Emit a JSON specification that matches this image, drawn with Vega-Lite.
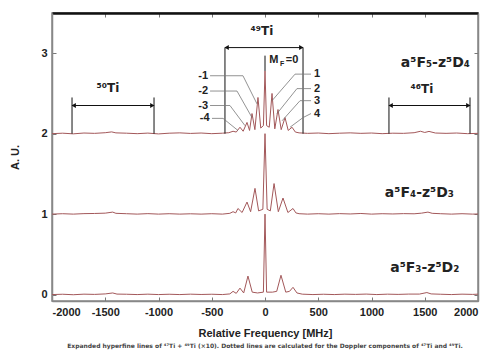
{
  "$schema": "https://vega.github.io/schema/vega-lite/v6.json",
  "width": 426,
  "height": 288,
  "autosize": "none",
  "padding": {"left": 52, "top": 13, "right": 12, "bottom": 52},
  "background": "white",
  "config": {
    "view": {"stroke": "#888", "strokeWidth": 1.5},
    "font": "Liberation Sans",
    "axis": {"grid": false, "labelFont": "Liberation Sans", "titleFont": "Liberation Sans", "labelColor": "#222", "titleColor": "#222", "labelFontWeight": "bold", "titleFontWeight": "bold", "tickColor": "#777", "domainColor": "#888", "domainWidth": 1.5}
  },
  "title": {"text": "Expanded hyperfine lines of ⁴⁷Ti + ⁴⁹Ti (×10). Dotted lines are calculated for the Doppler components of ⁴⁷Ti and ⁴⁹Ti.", "orient": "bottom", "font": "DejaVu Sans", "fontSize": 6, "fontWeight": "bold", "color": "#444", "offset": 5, "anchor": "middle"},
  "datasets": {
    "spec": [
      {"f": -2000, "a": 2.0, "s": "A"}, {"f": -1900, "a": 2.006, "s": "A"}, {"f": -1800, "a": 1.998, "s": "A"}, {"f": -1700, "a": 2.008, "s": "A"}, {"f": -1600, "a": 2.004, "s": "A"}, {"f": -1500, "a": 2.012, "s": "A"}, {"f": -1440, "a": 2.022, "s": "A"}, {"f": -1400, "a": 2.01, "s": "A"}, {"f": -1300, "a": 2.006, "s": "A"}, {"f": -1200, "a": 2.0, "s": "A"}, {"f": -1100, "a": 2.007, "s": "A"}, {"f": -1000, "a": 1.997, "s": "A"}, {"f": -900, "a": 2.006, "s": "A"}, {"f": -800, "a": 2.01, "s": "A"}, {"f": -700, "a": 2.003, "s": "A"}, {"f": -600, "a": 2.008, "s": "A"}, {"f": -500, "a": 2.0, "s": "A"}, {"f": -400, "a": 2.006, "s": "A"}, {"f": -340, "a": 2.012, "s": "A"}, {"f": -300, "a": 2.03, "s": "A"}, {"f": -270, "a": 2.02, "s": "A"}, {"f": -235, "a": 2.08, "s": "A"}, {"f": -205, "a": 2.03, "s": "A"}, {"f": -169, "a": 2.14, "s": "A"}, {"f": -145, "a": 2.04, "s": "A"}, {"f": -122, "a": 2.25, "s": "A"}, {"f": -95, "a": 2.05, "s": "A"}, {"f": -66, "a": 2.45, "s": "A"}, {"f": -40, "a": 2.07, "s": "A"}, {"f": -15, "a": 2.1, "s": "A"}, {"f": 0, "a": 2.78, "s": "A"}, {"f": 15, "a": 2.1, "s": "A"}, {"f": 40, "a": 2.08, "s": "A"}, {"f": 66, "a": 2.5, "s": "A"}, {"f": 92, "a": 2.06, "s": "A"}, {"f": 122, "a": 2.3, "s": "A"}, {"f": 152, "a": 2.05, "s": "A"}, {"f": 188, "a": 2.2, "s": "A"}, {"f": 218, "a": 2.04, "s": "A"}, {"f": 254, "a": 2.08, "s": "A"}, {"f": 285, "a": 2.02, "s": "A"}, {"f": 320, "a": 2.01, "s": "A"}, {"f": 400, "a": 2.004, "s": "A"}, {"f": 500, "a": 2.008, "s": "A"}, {"f": 600, "a": 2.0, "s": "A"}, {"f": 700, "a": 2.006, "s": "A"}, {"f": 800, "a": 2.01, "s": "A"}, {"f": 900, "a": 2.004, "s": "A"}, {"f": 1000, "a": 2.008, "s": "A"}, {"f": 1100, "a": 2.0, "s": "A"}, {"f": 1200, "a": 2.006, "s": "A"}, {"f": 1300, "a": 2.004, "s": "A"}, {"f": 1400, "a": 2.012, "s": "A"}, {"f": 1460, "a": 2.03, "s": "A"}, {"f": 1500, "a": 2.015, "s": "A"}, {"f": 1540, "a": 2.028, "s": "A"}, {"f": 1600, "a": 2.008, "s": "A"}, {"f": 1700, "a": 2.004, "s": "A"}, {"f": 1800, "a": 2.008, "s": "A"}, {"f": 1900, "a": 2.0, "s": "A"}, {"f": 2000, "a": 2.004, "s": "A"},

      {"f": -2000, "a": 1.0, "s": "B"}, {"f": -1900, "a": 1.005, "s": "B"}, {"f": -1800, "a": 1.0, "s": "B"}, {"f": -1700, "a": 1.006, "s": "B"}, {"f": -1600, "a": 1.008, "s": "B"}, {"f": -1500, "a": 1.012, "s": "B"}, {"f": -1430, "a": 1.025, "s": "B"}, {"f": -1400, "a": 1.01, "s": "B"}, {"f": -1300, "a": 1.005, "s": "B"}, {"f": -1200, "a": 1.0, "s": "B"}, {"f": -1100, "a": 1.006, "s": "B"}, {"f": -1000, "a": 1.0, "s": "B"}, {"f": -900, "a": 1.005, "s": "B"}, {"f": -800, "a": 1.0, "s": "B"}, {"f": -700, "a": 1.004, "s": "B"}, {"f": -600, "a": 1.0, "s": "B"}, {"f": -500, "a": 1.005, "s": "B"}, {"f": -400, "a": 1.0, "s": "B"}, {"f": -330, "a": 1.01, "s": "B"}, {"f": -300, "a": 1.03, "s": "B"}, {"f": -275, "a": 1.015, "s": "B"}, {"f": -254, "a": 1.07, "s": "B"}, {"f": -215, "a": 1.02, "s": "B"}, {"f": -169, "a": 1.15, "s": "B"}, {"f": -135, "a": 1.03, "s": "B"}, {"f": -94, "a": 1.32, "s": "B"}, {"f": -60, "a": 1.04, "s": "B"}, {"f": -20, "a": 1.06, "s": "B"}, {"f": 0, "a": 2.0, "s": "B"}, {"f": 20, "a": 1.06, "s": "B"}, {"f": 50, "a": 1.04, "s": "B"}, {"f": 85, "a": 1.38, "s": "B"}, {"f": 125, "a": 1.03, "s": "B"}, {"f": 169, "a": 1.2, "s": "B"}, {"f": 215, "a": 1.02, "s": "B"}, {"f": 263, "a": 1.07, "s": "B"}, {"f": 290, "a": 1.015, "s": "B"}, {"f": 320, "a": 1.005, "s": "B"}, {"f": 400, "a": 1.0, "s": "B"}, {"f": 500, "a": 1.005, "s": "B"}, {"f": 600, "a": 1.0, "s": "B"}, {"f": 700, "a": 1.006, "s": "B"}, {"f": 800, "a": 1.002, "s": "B"}, {"f": 900, "a": 1.008, "s": "B"}, {"f": 1000, "a": 1.0, "s": "B"}, {"f": 1100, "a": 1.005, "s": "B"}, {"f": 1200, "a": 1.002, "s": "B"}, {"f": 1300, "a": 1.006, "s": "B"}, {"f": 1400, "a": 1.004, "s": "B"}, {"f": 1470, "a": 1.012, "s": "B"}, {"f": 1530, "a": 1.025, "s": "B"}, {"f": 1570, "a": 1.01, "s": "B"}, {"f": 1650, "a": 1.005, "s": "B"}, {"f": 1750, "a": 1.0, "s": "B"}, {"f": 1850, "a": 1.005, "s": "B"}, {"f": 1950, "a": 1.0, "s": "B"}, {"f": 2000, "a": 1.002, "s": "B"},

      {"f": -2000, "a": 0.0, "s": "C"}, {"f": -1900, "a": 0.004, "s": "C"}, {"f": -1800, "a": -0.002, "s": "C"}, {"f": -1700, "a": 0.005, "s": "C"}, {"f": -1600, "a": 0.002, "s": "C"}, {"f": -1500, "a": 0.008, "s": "C"}, {"f": -1430, "a": 0.02, "s": "C"}, {"f": -1390, "a": 0.006, "s": "C"}, {"f": -1300, "a": 0.004, "s": "C"}, {"f": -1200, "a": 0.0, "s": "C"}, {"f": -1100, "a": 0.005, "s": "C"}, {"f": -1000, "a": 0.0, "s": "C"}, {"f": -900, "a": 0.004, "s": "C"}, {"f": -800, "a": 0.0, "s": "C"}, {"f": -700, "a": 0.005, "s": "C"}, {"f": -600, "a": 0.001, "s": "C"}, {"f": -500, "a": 0.004, "s": "C"}, {"f": -400, "a": 0.0, "s": "C"}, {"f": -330, "a": 0.008, "s": "C"}, {"f": -300, "a": 0.04, "s": "C"}, {"f": -270, "a": 0.015, "s": "C"}, {"f": -235, "a": 0.08, "s": "C"}, {"f": -200, "a": 0.02, "s": "C"}, {"f": -160, "a": 0.23, "s": "C"}, {"f": -120, "a": 0.03, "s": "C"}, {"f": -70, "a": 0.02, "s": "C"}, {"f": -15, "a": 0.03, "s": "C"}, {"f": 0, "a": 1.0, "s": "C"}, {"f": 15, "a": 0.03, "s": "C"}, {"f": 70, "a": 0.03, "s": "C"}, {"f": 110, "a": 0.04, "s": "C"}, {"f": 150, "a": 0.24, "s": "C"}, {"f": 195, "a": 0.03, "s": "C"}, {"f": 230, "a": 0.04, "s": "C"}, {"f": 263, "a": 0.09, "s": "C"}, {"f": 300, "a": 0.02, "s": "C"}, {"f": 350, "a": 0.005, "s": "C"}, {"f": 450, "a": 0.0, "s": "C"}, {"f": 550, "a": 0.004, "s": "C"}, {"f": 650, "a": 0.0, "s": "C"}, {"f": 750, "a": 0.005, "s": "C"}, {"f": 850, "a": 0.002, "s": "C"}, {"f": 950, "a": 0.006, "s": "C"}, {"f": 1050, "a": 0.0, "s": "C"}, {"f": 1150, "a": 0.005, "s": "C"}, {"f": 1250, "a": 0.002, "s": "C"}, {"f": 1350, "a": 0.006, "s": "C"}, {"f": 1450, "a": 0.006, "s": "C"}, {"f": 1520, "a": 0.025, "s": "C"}, {"f": 1560, "a": 0.008, "s": "C"}, {"f": 1650, "a": 0.004, "s": "C"}, {"f": 1750, "a": 0.0, "s": "C"}, {"f": 1850, "a": 0.005, "s": "C"}, {"f": 1950, "a": 0.002, "s": "C"}, {"f": 2000, "a": 0.005, "s": "C"}
    ],
    "brk": [
      {"x": -376, "y": 3.07, "g": "c"}, {"x": 357, "y": 3.07, "g": "c"},
      {"x": -376, "y": 3.07, "g": "cl"}, {"x": -376, "y": 2.0, "g": "cl"},
      {"x": 357, "y": 3.07, "g": "cr"}, {"x": 357, "y": 2.0, "g": "cr"},
      {"x": -1812, "y": 2.35, "g": "l"}, {"x": -1042, "y": 2.35, "g": "l"},
      {"x": -1812, "y": 2.45, "g": "ll"}, {"x": -1812, "y": 2.0, "g": "ll"},
      {"x": -1042, "y": 2.45, "g": "lr"}, {"x": -1042, "y": 2.0, "g": "lr"},
      {"x": 1164, "y": 2.35, "g": "r"}, {"x": 1925, "y": 2.35, "g": "r"},
      {"x": 1164, "y": 2.45, "g": "rl"}, {"x": 1164, "y": 2.0, "g": "rl"},
      {"x": 1925, "y": 2.45, "g": "rr"}, {"x": 1925, "y": 2.0, "g": "rr"},
      {"x": 0, "y": 2.97, "g": "m"}, {"x": 0, "y": 2.78, "g": "m"}
    ],
    "arrows": [
      {"x": -360, "y": 3.07, "d": "L"}, {"x": 341, "y": 3.07, "d": "R"},
      {"x": -1796, "y": 2.35, "d": "L"}, {"x": -1058, "y": 2.35, "d": "R"},
      {"x": 1180, "y": 2.35, "d": "L"}, {"x": 1909, "y": 2.35, "d": "R"}
    ],
    "lead": [
      {"x": -516, "y": 2.72, "g": "-1"}, {"x": -207, "y": 2.72, "g": "-1"}, {"x": -75, "y": 2.37, "g": "-1"},
      {"x": -516, "y": 2.53, "g": "-2"}, {"x": -263, "y": 2.53, "g": "-2"}, {"x": -122, "y": 2.2, "g": "-2"},
      {"x": -516, "y": 2.35, "g": "-3"}, {"x": -329, "y": 2.35, "g": "-3"}, {"x": -188, "y": 2.1, "g": "-3"},
      {"x": -498, "y": 2.19, "g": "-4"}, {"x": -394, "y": 2.19, "g": "-4"}, {"x": -254, "y": 2.04, "g": "-4"},
      {"x": 432, "y": 2.74, "g": "1"}, {"x": 282, "y": 2.74, "g": "1"}, {"x": 66, "y": 2.41, "g": "1"},
      {"x": 432, "y": 2.56, "g": "2"}, {"x": 300, "y": 2.56, "g": "2"}, {"x": 113, "y": 2.25, "g": "2"},
      {"x": 432, "y": 2.41, "g": "3"}, {"x": 329, "y": 2.41, "g": "3"}, {"x": 160, "y": 2.16, "g": "3"},
      {"x": 432, "y": 2.25, "g": "4"}, {"x": 357, "y": 2.2, "g": "4"}, {"x": 235, "y": 2.08, "g": "4"}
    ],
    "numL": [
      {"x": -535, "y": 2.72, "t": "-1"}, {"x": -535, "y": 2.53, "t": "-2"}, {"x": -535, "y": 2.35, "t": "-3"}, {"x": -520, "y": 2.19, "t": "-4"}
    ],
    "numR": [
      {"x": 460, "y": 2.74, "t": "1"}, {"x": 460, "y": 2.56, "t": "2"}, {"x": 460, "y": 2.41, "t": "3"}, {"x": 460, "y": 2.25, "t": "4"},
      {"x": 40, "y": 2.92, "t": "M"}, {"x": 195, "y": 2.92, "t": "=0"}
    ],
    "sub": [
      {"x": 140, "y": 2.86, "t": "F"}
    ],
    "iso": [
      {"x": -28, "y": 3.28, "t": "⁴⁹Ti"}, {"x": -1474, "y": 2.57, "t": "⁵⁰Ti"}, {"x": 1474, "y": 2.56, "t": "⁴⁶Ti"}
    ],
    "trans": [
      {"x": 1600, "y": 2.88, "t": "a⁵F₅-z⁵D₄"}, {"x": 1450, "y": 1.26, "t": "a⁵F₄-z⁵D₃"}, {"x": 1500, "y": 0.33, "t": "a⁵F₃-z⁵D₂"}
    ]
  },
  "layer": [
    {
      "data": {"name": "spec"},
      "mark": {"type": "line", "color": "#a3585a", "strokeWidth": 1, "clip": true},
      "encoding": {
        "x": {"field": "f", "type": "quantitative", "scale": {"domain": [-2000, 2000], "nice": false}, "axis": {"orient": "bottom", "values": [-2000, -1500, -1000, -500, 0, 500, 1000, 1500, 2000], "labelExpr": "'' + datum.value", "tickSize": -4, "labelPadding": 9, "labelFontSize": 11, "title": "Relative Frequency [MHz]", "titleFontSize": 11, "titlePadding": 10}},
        "y": {"field": "a", "type": "quantitative", "scale": {"domain": [-0.08, 3.5], "nice": false, "zero": false}, "axis": {"orient": "left", "values": [0, 1, 2, 3], "tickSize": -4, "labelPadding": 9, "labelFontSize": 11, "title": "A. U.", "titleFontSize": 11, "titlePadding": 20}},
        "detail": {"field": "s", "type": "nominal"},
        "order": {"field": "f", "type": "quantitative"}
      }
    },
    {
      "data": {"name": "brk"},
      "mark": {"type": "line", "color": "#111", "strokeWidth": 1},
      "encoding": {
        "x": {"field": "x", "type": "quantitative", "axis": {"orient": "top", "values": [-2000, -1500, -1000, -500, 0, 500, 1000, 1500, 2000], "labels": false, "tickSize": -4, "domainColor": "#111", "domainWidth": 2.5, "title": null}},
        "y": {"field": "y", "type": "quantitative", "axis": {"orient": "right", "values": [0, 1, 2, 3], "labels": false, "tickSize": -4, "title": null}},
        "detail": {"field": "g", "type": "nominal"}
      }
    },
    {
      "data": {"name": "lead"},
      "mark": {"type": "line", "color": "#777", "strokeWidth": 0.8},
      "encoding": {
        "x": {"field": "x", "type": "quantitative", "axis": null},
        "y": {"field": "y", "type": "quantitative", "axis": null},
        "detail": {"field": "g", "type": "nominal"}
      }
    },
    {
      "data": {"name": "arrows"},
      "mark": {"type": "point", "filled": true, "color": "#111", "size": 25, "opacity": 1},
      "encoding": {
        "x": {"field": "x", "type": "quantitative", "axis": null},
        "y": {"field": "y", "type": "quantitative", "axis": null},
        "shape": {"field": "d", "type": "nominal", "scale": {"domain": ["L", "R"], "range": ["triangle-left", "triangle-right"]}, "legend": null}
      }
    },
    {
      "data": {"name": "numL"},
      "mark": {"type": "text", "align": "right", "baseline": "middle", "fontSize": 11, "fontWeight": "bold", "color": "#222"},
      "encoding": {
        "x": {"field": "x", "type": "quantitative", "axis": null},
        "y": {"field": "y", "type": "quantitative", "axis": null},
        "text": {"field": "t", "type": "nominal"}
      }
    },
    {
      "data": {"name": "numR"},
      "mark": {"type": "text", "align": "left", "baseline": "middle", "fontSize": 11, "fontWeight": "bold", "color": "#222"},
      "encoding": {
        "x": {"field": "x", "type": "quantitative", "axis": null},
        "y": {"field": "y", "type": "quantitative", "axis": null},
        "text": {"field": "t", "type": "nominal"}
      }
    },
    {
      "data": {"name": "sub"},
      "mark": {"type": "text", "align": "left", "baseline": "middle", "fontSize": 7, "fontWeight": "bold", "color": "#222"},
      "encoding": {
        "x": {"field": "x", "type": "quantitative", "axis": null},
        "y": {"field": "y", "type": "quantitative", "axis": null},
        "text": {"field": "t", "type": "nominal"}
      }
    },
    {
      "data": {"name": "iso"},
      "mark": {"type": "text", "align": "center", "baseline": "middle", "font": "DejaVu Sans", "fontSize": 12, "fontWeight": "bold", "color": "#222"},
      "encoding": {
        "x": {"field": "x", "type": "quantitative", "axis": null},
        "y": {"field": "y", "type": "quantitative", "axis": null},
        "text": {"field": "t", "type": "nominal"}
      }
    },
    {
      "data": {"name": "trans"},
      "mark": {"type": "text", "align": "center", "baseline": "middle", "font": "DejaVu Sans", "fontSize": 14, "fontWeight": "bold", "color": "#222"},
      "encoding": {
        "x": {"field": "x", "type": "quantitative", "axis": null},
        "y": {"field": "y", "type": "quantitative", "axis": null},
        "text": {"field": "t", "type": "nominal"}
      }
    }
  ]
}
